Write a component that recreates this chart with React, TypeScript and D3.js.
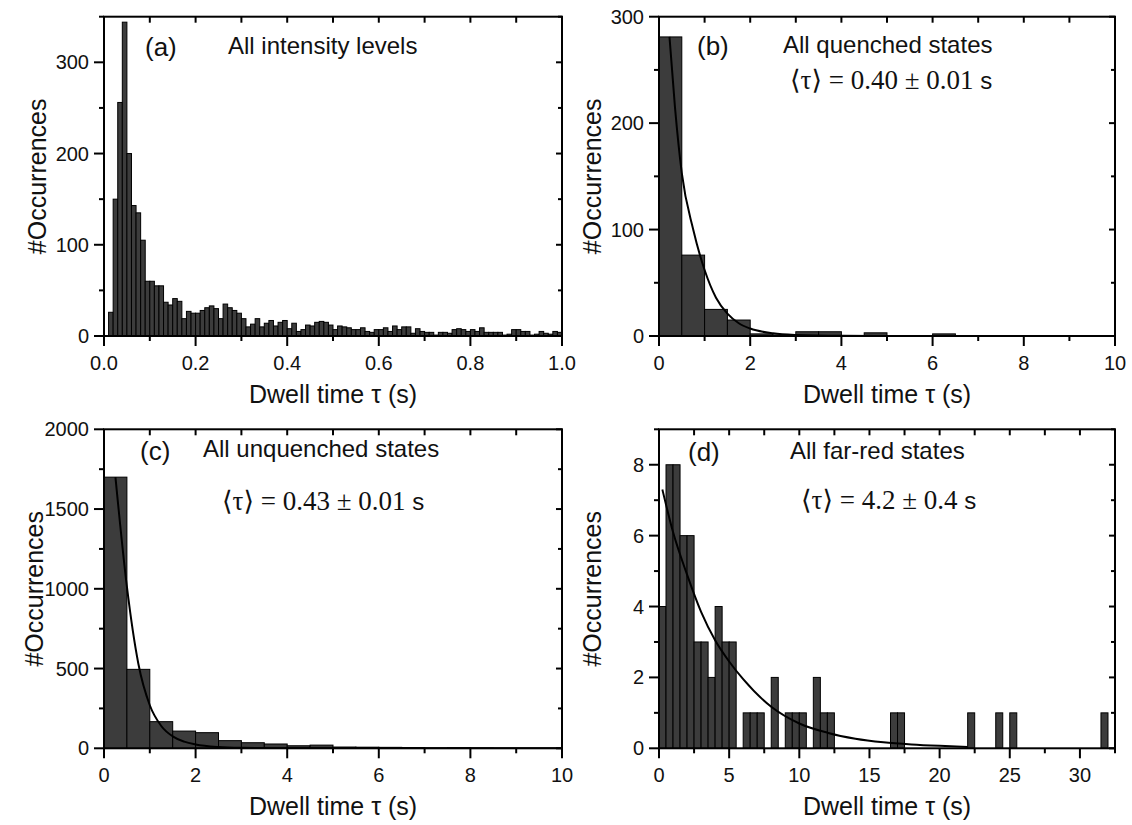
import React from 'react';
import * as d3 from 'd3';

// ---------------- DATA ----------------
// (a) All intensity levels, bin width 0.01 s, bins starting at 0
const binWidthA = 0.01;
const countsA = [
  0, 26, 150, 256, 344, 200, 143, 135, 105, 60,
  60, 55, 55, 37, 34, 41, 38, 19, 27, 25,
  25, 28, 31, 33, 30, 19, 35, 31, 28, 25,
  19, 10, 13, 19, 10, 14, 17, 11, 15, 17,
  8, 14, 5, 7, 12, 11, 15, 16, 15, 12,
  7, 11, 10, 9, 7, 7, 9, 5, 4, 7,
  7, 9, 5, 11, 7, 10, 10, 3, 8, 5,
  4, 4, 1, 4, 4, 3, 7, 8, 7, 5,
  7, 5, 9, 4, 4, 4, 4, 1, 2, 7,
  7, 5, 5, 1, 2, 5, 3, 2, 5, 4,
];

// (b) All quenched states, bin width 0.5 s
const binWidthB = 0.5;
const countsB = [281, 76, 25, 15, 2, 1, 4, 4, 0, 3, 0, 0, 2];
const fitXB = [0.23, 0.35, 0.5, 0.75, 1.0, 1.25, 1.5, 1.75, 2.0, 2.5, 3.0, 4.0, 5.0, 6.0, 8.0, 10.0];
const fitYB = [281, 215, 153, 100, 62, 36, 21, 12, 7, 2.5, 1, 0.2, 0.05, 0, 0, 0];

// (c) All unquenched states, bin width 0.5 s
const binWidthC = 0.5;
const countsC = [1700, 495, 167, 108, 98, 48, 35, 27, 16, 20, 8, 7, 6, 5, 1, 3, 1];
const fitXC = [0.25, 0.5, 0.75, 1.0, 1.25, 1.5, 1.75, 2.0, 2.5, 3.0, 4.0, 5.0, 6.0, 8.0, 10.0];
const fitYC = [1700, 1013, 530, 270, 140, 75, 42, 24, 8, 3, 0.5, 0, 0, 0, 0];

// (d) All far-red states, bin width 0.5 s
const binWidthD = 0.5;
const countsD = [
  4, 8, 8, 6, 6, 3, 3, 2, 4, 3,
  3, 0, 1, 1, 1, 0, 2, 0, 1, 1,
  1, 0, 2, 1, 1, 0, 0, 0, 0, 0,
  0, 0, 0, 1, 1, 0, 0, 0, 0, 0,
  0, 0, 0, 0, 1, 0, 0, 0, 1, 0,
  1, 0, 0, 0, 0, 0, 0, 0, 0, 0,
  0, 0, 0, 1,
];
const fitXD = [0.24, 1, 2, 3, 4, 5, 6, 8, 10, 12, 14, 16, 18, 20, 22];
const fitYD = [7.3, 6.1, 4.9, 3.85, 3.05, 2.45, 1.95, 1.17, 0.7, 0.44, 0.27, 0.17, 0.11, 0.07, 0.04];

// Tick values and labels
const xTicksA = [0, 0.2, 0.4, 0.6, 0.8, 1.0];
const xTickLabelsA = ['0.0', '0.2', '0.4', '0.6', '0.8', '1.0'];
const xMinorA = [0.1, 0.3, 0.5, 0.7, 0.9];
const yTicksA = [0, 100, 200, 300];
const yMinorA = [50, 150, 250, 350];

const xTicksBC = [0, 2, 4, 6, 8, 10];
const xTickLabelsBC = ['0', '2', '4', '6', '8', '10'];
const xMinorBC = [1, 3, 5, 7, 9];
const yTicksB = [0, 100, 200, 300];
const yMinorB = [50, 150, 250];
const yTicksC = [0, 500, 1000, 1500, 2000];
const yMinorC = [250, 750, 1250, 1750];

const xTicksD = [0, 5, 10, 15, 20, 25, 30];
const xTickLabelsD = ['0', '5', '10', '15', '20', '25', '30'];
const xMinorD = [2.5, 7.5, 12.5, 17.5, 22.5, 27.5, 32.5];
const yTicksD = [0, 2, 4, 6, 8];
const yMinorD = [1, 3, 5, 7, 9];

const tags = ['(a)', '(b)', '(c)', '(d)'];
const titles = ['All intensity levels', 'All quenched states', 'All unquenched states', 'All far-red states'];
const tauValues = ['', '0.40 \u00b1 0.01', '0.43 \u00b1 0.01', '4.2 \u00b1 0.4'];
const xAxisTitle = 'Dwell time \u03c4 (s)';
const yAxisTitle = '#Occurrences';

// ---------------- LAYOUT ----------------
const SANS = "'Liberation Sans', Arial, sans-serif";
const SERIF = "'Liberation Serif', 'DejaVu Serif', 'Times New Roman', serif";
const BAR_FILL = '#3c3c3c';

type PanelCfg = {
  id: string;
  x0: number; x1: number; yTop: number; yBot: number;
  xDomain: [number, number]; yDomain: [number, number];
  counts: number[]; binWidth: number;
  fitX?: number[]; fitY?: number[];
  xTicks: number[]; xTickLabels: string[]; xMinor: number[];
  yTicks: number[]; yMinor: number[];
  tag: string; tagPos: [number, number];
  title: string; titlePos: [number, number];
  tau: string; tauPos: [number, number];
  yTitleX: number;
};

const panels: PanelCfg[] = [
  {
    id: 'a', x0: 104, x1: 562, yTop: 16.7, yBot: 336,
    xDomain: [0, 1], yDomain: [0, 350],
    counts: countsA, binWidth: binWidthA,
    xTicks: xTicksA, xTickLabels: xTickLabelsA, xMinor: xMinorA,
    yTicks: yTicksA, yMinor: yMinorA,
    tag: tags[0], tagPos: [145, 56], title: titles[0], titlePos: [228, 54],
    tau: tauValues[0], tauPos: [0, 0], yTitleX: 46,
  },
  {
    id: 'b', x0: 659, x1: 1115, yTop: 16.7, yBot: 336,
    xDomain: [0, 10], yDomain: [0, 300],
    counts: countsB, binWidth: binWidthB, fitX: fitXB, fitY: fitYB,
    xTicks: xTicksBC, xTickLabels: xTickLabelsBC, xMinor: xMinorBC,
    yTicks: yTicksB, yMinor: yMinorB,
    tag: tags[1], tagPos: [697, 55], title: titles[1], titlePos: [783, 53],
    tau: tauValues[1], tauPos: [790, 89], yTitleX: 601,
  },
  {
    id: 'c', x0: 104, x1: 562, yTop: 429.3, yBot: 748.3,
    xDomain: [0, 10], yDomain: [0, 2000],
    counts: countsC, binWidth: binWidthC, fitX: fitXC, fitY: fitYC,
    xTicks: xTicksBC, xTickLabels: xTickLabelsBC, xMinor: xMinorBC,
    yTicks: yTicksC, yMinor: yMinorC,
    tag: tags[2], tagPos: [140, 460], title: titles[2], titlePos: [203, 457],
    tau: tauValues[2], tauPos: [222, 510], yTitleX: 43,
  },
  {
    id: 'd', x0: 659, x1: 1115, yTop: 429.3, yBot: 748.3,
    xDomain: [0, 32.5], yDomain: [0, 9],
    counts: countsD, binWidth: binWidthD, fitX: fitXD, fitY: fitYD,
    xTicks: xTicksD, xTickLabels: xTickLabelsD, xMinor: xMinorD,
    yTicks: yTicksD, yMinor: yMinorD,
    tag: tags[3], tagPos: [688, 461], title: titles[3], titlePos: [790, 459],
    tau: tauValues[3], tauPos: [801, 509], yTitleX: 601,
  },
];

function Panel({ cfg }: { cfg: PanelCfg }) {
  const x = d3.scaleLinear().domain(cfg.xDomain).range([cfg.x0, cfg.x1]);
  const y = d3.scaleLinear().domain(cfg.yDomain).range([cfg.yBot, cfg.yTop]);
  const clipId = 'clip-' + cfg.id;

  let fitPath: string | null = null;
  if (cfg.fitX && cfg.fitY) {
    const fx = cfg.fitX;
    const fy = cfg.fitY;
    const line = d3
      .line<number>()
      .x((_, i) => x(fx[i]))
      .y((_, i) => y(fy[i]))
      .curve(d3.curveMonotoneX);
    fitPath = line(fx);
  }

  const tickFont = 20;
  const majorLen = 10;
  const minorLen = 5;
  const innerLen = 6;
  const cx = (cfg.x0 + cfg.x1) / 2;
  const cy = (cfg.yTop + cfg.yBot) / 2;

  return (
    <g>
      <defs>
        <clipPath id={clipId}>
          <rect x={cfg.x0} y={cfg.yTop} width={cfg.x1 - cfg.x0} height={cfg.yBot - cfg.yTop} />
        </clipPath>
      </defs>
      {/* bars */}
      <g>
        {cfg.counts.map((c, i) => {
          if (c <= 0) return null;
          const xa = x(i * cfg.binWidth);
          const xb = x((i + 1) * cfg.binWidth);
          return (
            <rect
              key={i}
              x={xa}
              y={y(c)}
              width={xb - xa}
              height={y(0) - y(c)}
              fill={BAR_FILL}
              stroke="#000"
              strokeWidth={1}
            />
          );
        })}
      </g>
      {/* fit curve */}
      {fitPath && (
        <path d={fitPath} fill="none" stroke="#000" strokeWidth={2} clipPath={`url(#${clipId})`} />
      )}
      {/* frame */}
      <rect
        x={cfg.x0}
        y={cfg.yTop}
        width={cfg.x1 - cfg.x0}
        height={cfg.yBot - cfg.yTop}
        fill="none"
        stroke="#000"
        strokeWidth={2}
      />
      {/* bottom/top ticks */}
      {cfg.xTicks.map((t, i) => (
        <g key={'xt' + i}>
          <line x1={x(t)} x2={x(t)} y1={cfg.yBot} y2={cfg.yBot + majorLen} stroke="#000" strokeWidth={2} />
          <line x1={x(t)} x2={x(t)} y1={cfg.yTop} y2={cfg.yTop + innerLen} stroke="#000" strokeWidth={2} />
          <text
            x={x(t)}
            y={cfg.yBot + 34}
            textAnchor="middle"
            fontFamily={SANS}
            fontSize={tickFont}
            fill="#111"
          >
            {cfg.xTickLabels[i]}
          </text>
        </g>
      ))}
      {cfg.xMinor.map((t, i) => (
        <g key={'xm' + i}>
          <line x1={x(t)} x2={x(t)} y1={cfg.yBot} y2={cfg.yBot + minorLen} stroke="#000" strokeWidth={2} />
          <line x1={x(t)} x2={x(t)} y1={cfg.yTop} y2={cfg.yTop + innerLen} stroke="#000" strokeWidth={2} />
        </g>
      ))}
      {/* left/right ticks */}
      {cfg.yTicks.map((t, i) => (
        <g key={'yt' + i}>
          <line x1={cfg.x0 - majorLen} x2={cfg.x0} y1={y(t)} y2={y(t)} stroke="#000" strokeWidth={2} />
          <line x1={cfg.x1 - innerLen} x2={cfg.x1} y1={y(t)} y2={y(t)} stroke="#000" strokeWidth={2} />
          <text
            x={cfg.x0 - 15}
            y={y(t) + 7}
            textAnchor="end"
            fontFamily={SANS}
            fontSize={tickFont}
            fill="#111"
          >
            {String(t)}
          </text>
        </g>
      ))}
      {cfg.yMinor.map((t, i) => (
        <g key={'ym' + i}>
          <line x1={cfg.x0 - minorLen} x2={cfg.x0} y1={y(t)} y2={y(t)} stroke="#000" strokeWidth={2} />
          <line x1={cfg.x1 - 4} x2={cfg.x1} y1={y(t)} y2={y(t)} stroke="#000" strokeWidth={2} />
        </g>
      ))}
      {/* axis titles */}
      <text x={cx} y={cfg.yBot + 67} textAnchor="middle" fontFamily={SANS} fontSize={25} fill="#111">
        {xAxisTitle}
      </text>
      <text
        transform={`translate(${cfg.yTitleX},${cy}) rotate(-90)`}
        textAnchor="middle"
        fontFamily={SANS}
        fontSize={25}
        fill="#111"
      >
        {yAxisTitle}
      </text>
      {/* annotations */}
      <text x={cfg.tagPos[0]} y={cfg.tagPos[1]} fontFamily={SANS} fontSize={26} fill="#111">
        {cfg.tag}
      </text>
      <text x={cfg.titlePos[0]} y={cfg.titlePos[1]} fontFamily={SANS} fontSize={24} fill="#111">
        {cfg.title}
      </text>
      {cfg.tau && (
        <text x={cfg.tauPos[0]} y={cfg.tauPos[1]} fontFamily={SERIF} fontSize={27} fill="#111">
          {'\u27e8\u03c4\u27e9 = ' + cfg.tau + ' '}
          <tspan fontFamily={SANS} fontSize={24}>s</tspan>
        </text>
      )}
    </g>
  );
}

export default function App() {
  return (
    <svg
      width={1132}
      height={825}
      style={{ position: 'absolute', left: 0, top: 0, background: '#fff' }}
    >
      <rect x={0} y={0} width={1132} height={825} fill="#fff" />
      {panels.map((p) => (
        <Panel key={p.id} cfg={p} />
      ))}
    </svg>
  );
}
